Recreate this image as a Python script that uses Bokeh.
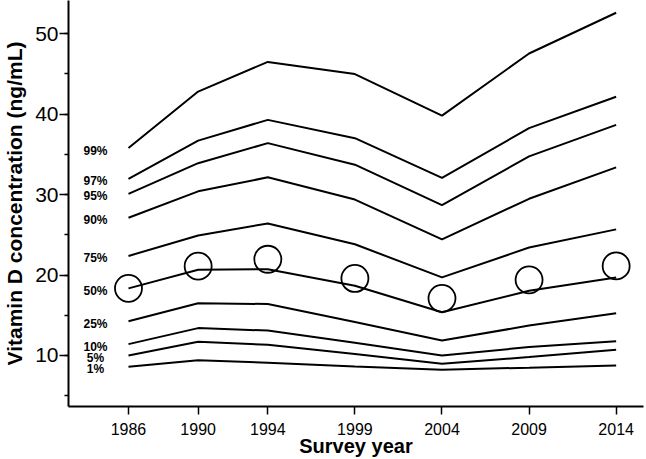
from bokeh.plotting import figure
from bokeh.models import Range1d, SingleIntervalTicker, FixedTicker, ColumnDataSource
from bokeh.core.properties import value
from bokeh.embed import file_html
from bokeh.resources import INLINE

years = [1986, 1990, 1994, 1999, 2004, 2009, 2014]
p1 = [8.6, 9.4, 9.1, 8.64, 8.23, 8.48, 8.76]
p5 = [10.0, 11.7, 11.32, 10.17, 8.97, 9.8, 10.7]
p10 = [11.41, 13.4, 13.09, 11.57, 10.0, 11.04, 11.78]
p25 = [14.25, 16.5, 16.39, 14.17, 11.86, 13.71, 15.24]
p50 = [18.34, 20.65, 20.72, 18.66, 15.37, 18.04, 19.7]
p75 = [22.37, 24.9, 26.41, 23.82, 19.7, 23.41, 25.67]
p90 = [27.12, 30.4, 32.14, 29.38, 24.43, 29.47, 33.38]
p95 = [30.09, 33.9, 36.39, 33.71, 28.68, 34.74, 38.66]
p97 = [31.94, 36.7, 39.28, 37.01, 32.07, 38.25, 42.16]
p99 = [35.78, 42.8, 46.49, 44.97, 39.81, 47.53, 52.6]
means = [18.34, 21.1, 21.96, 19.57, 17.1, 19.4, 21.13]

series = [p1, p5, p10, p25, p50, p75, p90, p95, p97, p99]
pct_labels = ["1%", "5%", "10%", "25%", "50%", "75%", "90%", "95%", "97%", "99%"]

FONT = "Liberation Sans"

p = figure(width=646, height=459,
           x_range=Range1d(1982.556, 2015.57), y_range=Range1d(3.655, 54.12),
           output_backend="svg", toolbar_location=None,
           min_border_left=68, min_border_right=3, min_border_top=0, min_border_bottom=51)
p.outline_line_color = None
p.xgrid.visible = False
p.ygrid.visible = False
p.background_fill_color = "white"
p.border_fill_color = "white"

for s in series:
    p.line(years, s, line_color="black", line_width=2)

p.scatter(years, means, size=27, fill_color=None, line_color="black", line_width=1.8)

src = ColumnDataSource(dict(x=[years[0]] * len(series), y=[s[0] for s in series], t=pct_labels))
p.text(x="x", y="y", text="t", source=src, x_offset=-33, y_offset=2.5,
       text_align="center", text_baseline="middle",
       text_font=value(FONT), text_font_style="bold", text_font_size="12px", text_color="black")

# y axis
p.yaxis.ticker = SingleIntervalTicker(interval=10, num_minor_ticks=2)
p.yaxis.axis_label = "Vitamin D concentration (ng/mL)"
p.yaxis.axis_label_text_font = FONT
p.yaxis.axis_label_text_font_style = "bold"
p.yaxis.axis_label_text_font_size = "21px"
p.yaxis.axis_label_standoff = 6
p.yaxis.major_label_text_font = FONT
p.yaxis.major_label_text_font_size = "21px"
p.yaxis.major_label_standoff = 1
p.yaxis.major_tick_out = 9
p.yaxis.major_tick_in = 0
p.yaxis.minor_tick_out = 4
p.yaxis.minor_tick_in = 0
p.yaxis.axis_line_width = 2
p.yaxis.major_tick_line_width = 1.5
p.yaxis.minor_tick_line_width = 1.5

# x axis
p.xaxis.ticker = FixedTicker(ticks=years)
p.xaxis.axis_label = "Survey year"
p.xaxis.axis_label_text_font = FONT
p.xaxis.axis_label_text_font_style = "bold"
p.xaxis.axis_label_text_font_size = "20px"
p.xaxis.axis_label_standoff = -3
p.xaxis.major_label_text_font = FONT
p.xaxis.major_label_text_font_size = "16px"
p.xaxis.major_label_standoff = 8
p.xaxis.major_tick_out = 8
p.xaxis.major_tick_in = 0
p.xaxis.minor_tick_out = 0
p.xaxis.minor_tick_in = 0
p.xaxis.axis_line_width = 2
p.xaxis.major_tick_line_width = 1.5

for ax in [p.xaxis[0], p.yaxis[0]]:
    ax.axis_line_color = "black"
    ax.major_tick_line_color = "black"
    ax.major_label_text_color = "black"
    ax.axis_label_text_color = "black"

open("out.html", "w").write(file_html(p, INLINE))
